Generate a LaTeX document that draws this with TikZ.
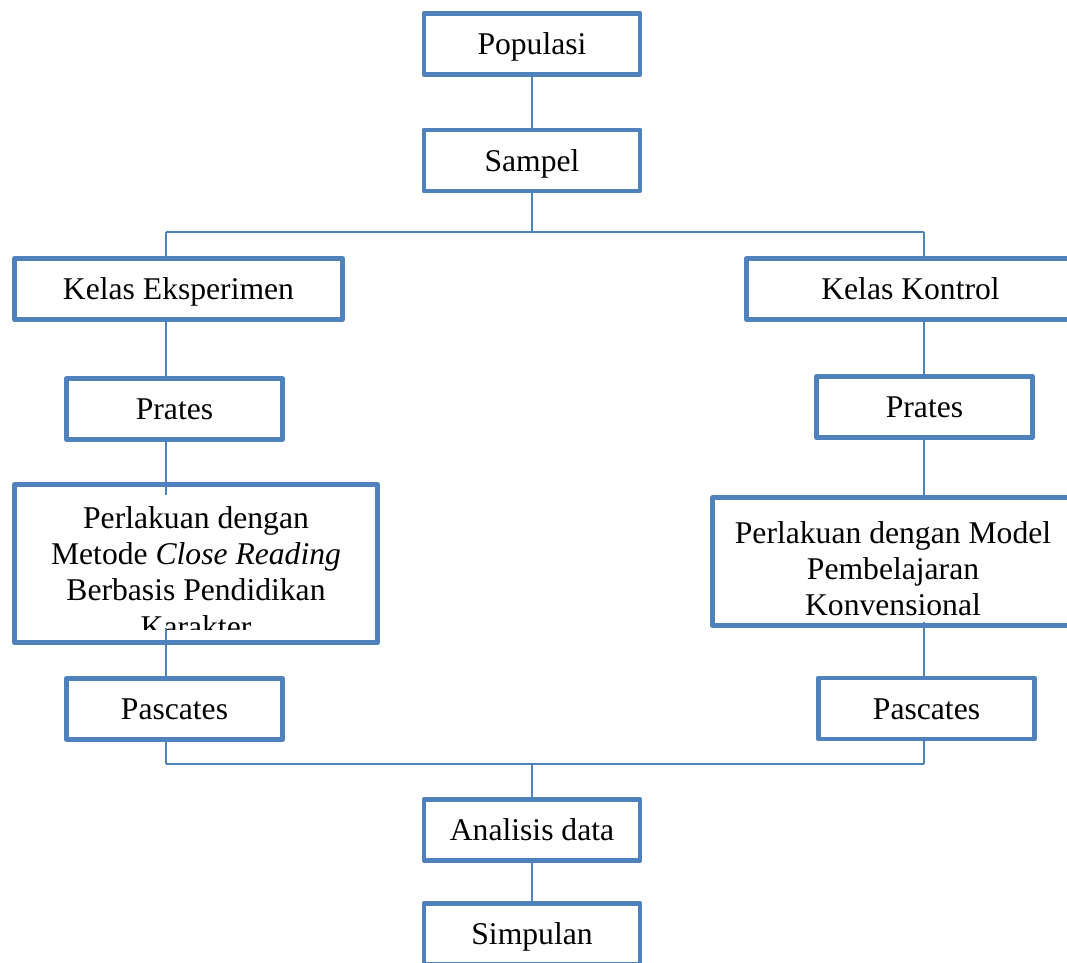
\documentclass[tikz,border=0pt]{standalone}
\usepackage{fontspec}
\setmainfont{Liberation Serif}
\usepackage{xcolor}
\usetikzlibrary{calc}
\definecolor{flowblue}{RGB}{79,129,189}

\begin{document}
\begin{tikzpicture}[
    every node/.style={font=\fontsize{18}{20.7}\selectfont},
    box/.style={draw=flowblue, line width=2.8pt, line join=round, minimum width=4.32cm, minimum height=1.22cm, inner sep=0pt, text height=0.5cm, text depth=0.08cm},
    link/.style={draw=flowblue, line width=1.1pt}]

\clip (0,0) rectangle (21.34,-19.24);

\node[box] (pop) at (10.64,-0.88) {Populasi};
\node[box] (samp) at (10.64,-3.21) {Sampel};

\node[box, minimum width=6.56cm] (kelE) at (3.57,-5.78) {Kelas Eksperimen};
\node[box, minimum width=6.56cm] (kelK) at (18.21,-5.78) {Kelas Kontrol};

\node[box] (praE) at (3.49,-8.18) {Prates};
\node[box] (praK) at (18.49,-8.14) {Prates};

\node[box, minimum width=7.26cm, minimum height=3.16cm] (perE) at (3.92,-11.27) {};
\node[anchor=north, align=center] (perEtxt) at ($(perE.north)+(0,-0.36)$)
    {Perlakuan dengan\\Metode \textit{Close Reading}\\Berbasis Pendidikan\\Karakter};
\fill[white] ($(perE.south west)+(0.11,0.11)$) rectangle ($(perE.south east)+(-0.11,0.3)$);

\node[box, minimum width=7.22cm, minimum height=2.56cm] (perK) at (17.86,-11.23) {};
\node[anchor=north, align=center] (perKtxt) at ($(perK.north)+(0,-0.4)$)
    {Perlakuan dengan Model\\Pembelajaran\\Konvensional};

\node[box] (pasE) at (3.49,-14.18) {Pascates};
\node[box] (pasK) at (18.53,-14.17) {Pascates};

\node[box] (ana) at (10.64,-16.6) {Analisis data};
\node[box] (simp) at (10.64,-18.68) {Simpulan};

\coordinate (colL) at (3.32,0);
\coordinate (colR) at (18.48,0);
\coordinate (splitA) at (0,-4.64);
\coordinate (splitB) at (0,-15.28);

\draw[link] (pop) -- (samp);
\draw[link] (samp.south) -- (samp.south |- splitA);
\draw[link] (splitA -| colL) -- (splitA -| colR);
\draw[link] (splitA -| colL) -- (kelE.north -| colL);
\draw[link] (splitA -| colR) -- (kelK.north -| colR);

\draw[link] (kelE.south -| colL) -- (praE.north -| colL);
\draw[link] (praE.south -| colL) -- ($(perE.north -| colL)+(0,-0.26)$);
\draw[link] ($(perE.south -| colL)+(0,0.34)$) -- (pasE.north -| colL);
\draw[link] (pasE.south -| colL) -- (splitB -| colL);

\draw[link] (kelK.south -| colR) -- (praK.north -| colR);
\draw[link] (praK.south -| colR) -- (perK.north -| colR);
\draw[link] ($(perK.south -| colR)+(0,0.12)$) -- (pasK.north -| colR);
\draw[link] (pasK.south -| colR) -- (splitB -| colR);

\draw[link] (splitB -| colL) -- (splitB -| colR);
\draw[link] (ana.north |- splitB) -- (ana.north);
\draw[link] (ana) -- (simp);

\end{tikzpicture}
\end{document}
